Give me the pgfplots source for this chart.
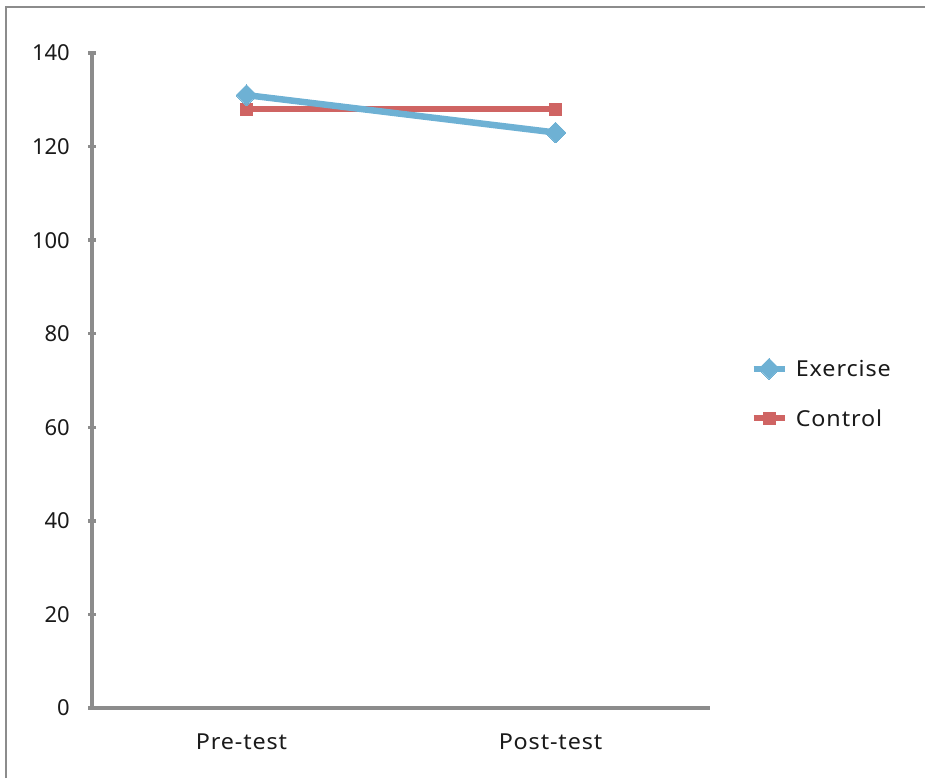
\documentclass[border=0pt]{standalone}
\usepackage{pgfplots}
\pgfplotsset{compat=1.18}
\usepackage{fontspec}
\setmainfont{Noto Sans}
\newfontfamily\lblfont[LetterSpace=4, FakeStretch=1.06]{Noto Sans}
\definecolor{axgray}{HTML}{8C8C8C}
\definecolor{exblue}{HTML}{6EB1D4}
\definecolor{ctred}{HTML}{CF6463}
\definecolor{txt}{HTML}{1A1A1A}
\begin{document}
\begin{tikzpicture}[x=1pt,y=1pt]
\path[use as bounding box] (0,0) rectangle (925,778);
\draw[axgray, line width=1.5pt] (6,0) -- (6,771) -- (925,771);
\begin{axis}[
  at={(92pt,70pt)}, anchor=south west,
  scale only axis, width=618pt, height=655pt,
  xmin=-0.5, xmax=1.5, ymin=0, ymax=140,
  axis x line=bottom, axis y line=left,
  axis line style={-, axgray, line width=4pt},
  xtick={0,1}, xticklabels={Pre-test,Post-test},
  major x tick style={draw=none},
  ytick={0,20,...,140}, tick align=center, major tick length=8pt,
  ytick style={axgray, line width=3.5pt},
  /pgf/number format/assume math mode=true,
  tick label style={font=\fontsize{22}{26}\selectfont, text=txt},
  yticklabel style={anchor=east, inner sep=0pt, xshift=-18pt},
  xticklabel style={anchor=north, inner sep=0pt, yshift=-22pt, xshift=-5pt, font=\lblfont\fontsize{22}{26}\selectfont},
  clip=false,
  reverse legend,
  legend style={draw=none, fill=none, at={(1.065,0.481)}, anchor=west, inner sep=0pt,
    font=\lblfont\fontsize{22}{26}\selectfont, text=txt, row sep=30pt, column sep=8pt,
    nodes={inner sep=0pt, anchor=west}},
  legend cell align=left,
  legend image code/.code={\draw[#1, mark repeat=2, mark phase=2] plot coordinates {(0pt,0pt)(15.5pt,0pt)(31pt,0pt)};},
]
\addplot[ctred, line width=6pt, mark=square*, mark size=6pt, mark options={line width=0pt}] coordinates {(0,128) (1,128)};
\addlegendentry{Control}
\addplot[exblue, line width=6.5pt, mark=square*, mark size=7.4pt, mark options={rotate=45, line width=0pt}] coordinates {(0,131) (1,123)};
\addlegendentry{Exercise}
\end{axis}
\end{tikzpicture}
\end{document}
